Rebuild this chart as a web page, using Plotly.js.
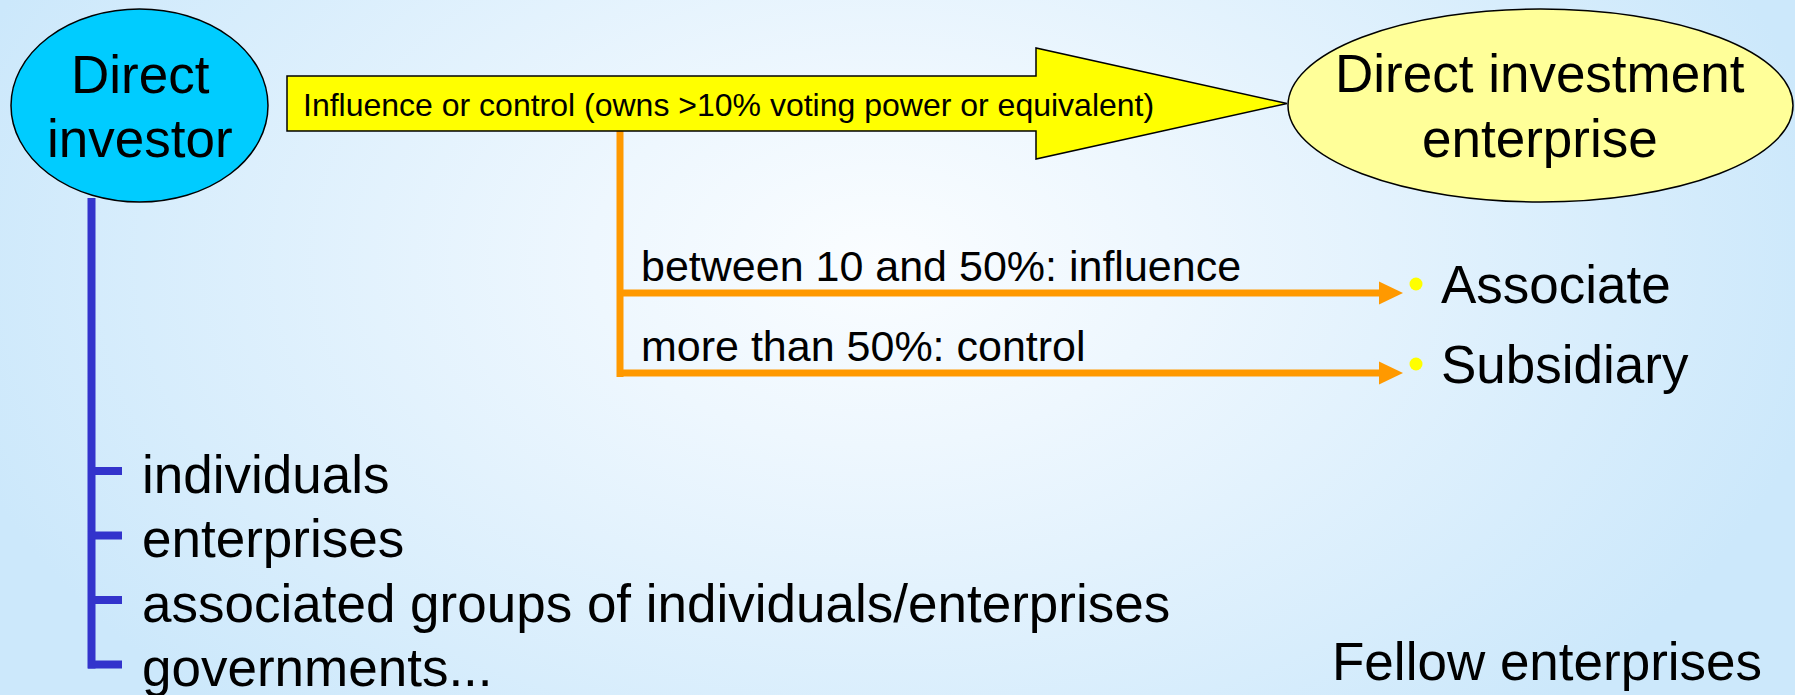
<!DOCTYPE html>
<html>
<head>
<meta charset="utf-8">
<script src="https://cdn.plot.ly/plotly-3.0.1.min.js"></script>
<style>
  html, body { margin: 0; padding: 0; }
  body {
    width: 1795px; height: 695px; overflow: hidden;
    background: radial-gradient(ellipse 960px 620px at 880px 260px, #fafdff 0%, #eef7fe 30%, #cce8fb 100%);
  }
  #diagram { width: 1795px; height: 695px; }
</style>
</head>
<body>
<div id="diagram"></div>
<script>
var FONT = "Liberation Sans, Arial, sans-serif";

var investorLabel = ["Direct", "investor"];
var enterpriseLabel = ["Direct investment", "enterprise"];
var controlLabel = "Influence or control (owns >10% voting power or equivalent)";
var ownershipLabels = ["between 10 and 50%: influence", "more than 50%: control"];
var enterpriseTypes = ["Associate", "Subsidiary"];
var investorTypes = ["individuals", "enterprises", "associated groups of individuals/enterprises", "governments..."];
var fellowLabel = "Fellow enterprises";

// baseline -> middle of an annotation box
var mid = function(baseline, size) { return baseline - 0.35 * size; };

var label = function(text, x, baseline, size, anchor) {
  return {
    x: x, y: mid(baseline, size), xref: "x", yref: "y",
    text: text, showarrow: false,
    xanchor: anchor || "left", yanchor: "middle",
    font: { family: FONT, size: size, color: "#000" }
  };
};

var annotations = [];
var shapes = [];

// direct investor bubble
shapes.push({ type: "circle", x0: 11, x1: 268, y0: 9, y1: 202,
  fillcolor: "#00ccff", line: { color: "#000", width: 1.5 } });
investorLabel.forEach(function(t, i) {
  annotations.push(label(t, 140, 93 + i * 64, 53, "center"));
});

// direct investment enterprise bubble
shapes.push({ type: "circle", x0: 1288, x1: 1793, y0: 9, y1: 202,
  fillcolor: "#ffff99", line: { color: "#000", width: 1.5 } });
enterpriseLabel.forEach(function(t, i) {
  annotations.push(label(t, 1540, 92 + i * 65, 53, "center"));
});

// orange branch (drawn first so the arrow sits on top)
var branchY = [293, 373];
shapes.push({ type: "line", x0: 620, x1: 620, y0: 131, y1: branchY[1] + 4,
  line: { color: "#ff9900", width: 7 } });
ownershipLabels.forEach(function(t, i) {
  var y = branchY[i];
  shapes.push({ type: "line", x0: 617, x1: 1382, y0: y, y1: y,
    line: { color: "#ff9900", width: 7 } });
  shapes.push({ type: "path", path: "M1379," + (y - 11.5) + " L1403," + y + " L1379," + (y + 11.5) + " Z",
    fillcolor: "#ff9900", line: { width: 0 } });
  annotations.push(label(t, 639, y - 12, 43));
  annotations.push(label(enterpriseTypes[i], 1439, y + 10, 53));
});

// big yellow arrow
shapes.push({ type: "path",
  path: "M287,76 L1036,76 L1036,48 L1287,103.5 L1036,159 L1036,131 L287,131 Z",
  fillcolor: "#ffff00", line: { color: "#000", width: 1.5 } });
annotations.push(label(controlLabel, 301, 116, 32));

// blue bracket of investor types
var tickY = investorTypes.map(function(t, i) { return 471 + i * 64.5; });
shapes.push({ type: "line", x0: 91.5, x1: 91.5, y0: 198, y1: tickY[tickY.length - 1] + 4,
  line: { color: "#3333cc", width: 8 } });
investorTypes.forEach(function(t, i) {
  shapes.push({ type: "line", x0: 88, x1: 122, y0: tickY[i], y1: tickY[i],
    line: { color: "#3333cc", width: 8 } });
  annotations.push(label(t, 140, tickY[i] + 22, 53));
});

annotations.push(label(fellowLabel, 1764, 680, 53, "right"));

var dots = {
  type: "scatter", mode: "markers",
  x: enterpriseTypes.map(function() { return 1416; }),
  y: branchY.map(function(y) { return y - 9; }),
  marker: { color: "#ffff00", size: 13, line: { width: 0 } },
  hoverinfo: "skip", showlegend: false
};

var layout = {
  width: 1795, height: 695,
  margin: { l: 0, r: 0, t: 0, b: 0 },
  paper_bgcolor: "rgba(0,0,0,0)",
  plot_bgcolor: "rgba(0,0,0,0)",
  xaxis: { range: [0, 1795], visible: false, fixedrange: true },
  yaxis: { range: [695, 0], visible: false, fixedrange: true },
  shapes: shapes,
  annotations: annotations,
  showlegend: false
};

Plotly.newPlot(document.getElementById("diagram"), [dots], layout, {
  displayModeBar: false, staticPlot: true
});
</script>
</body>
</html>
